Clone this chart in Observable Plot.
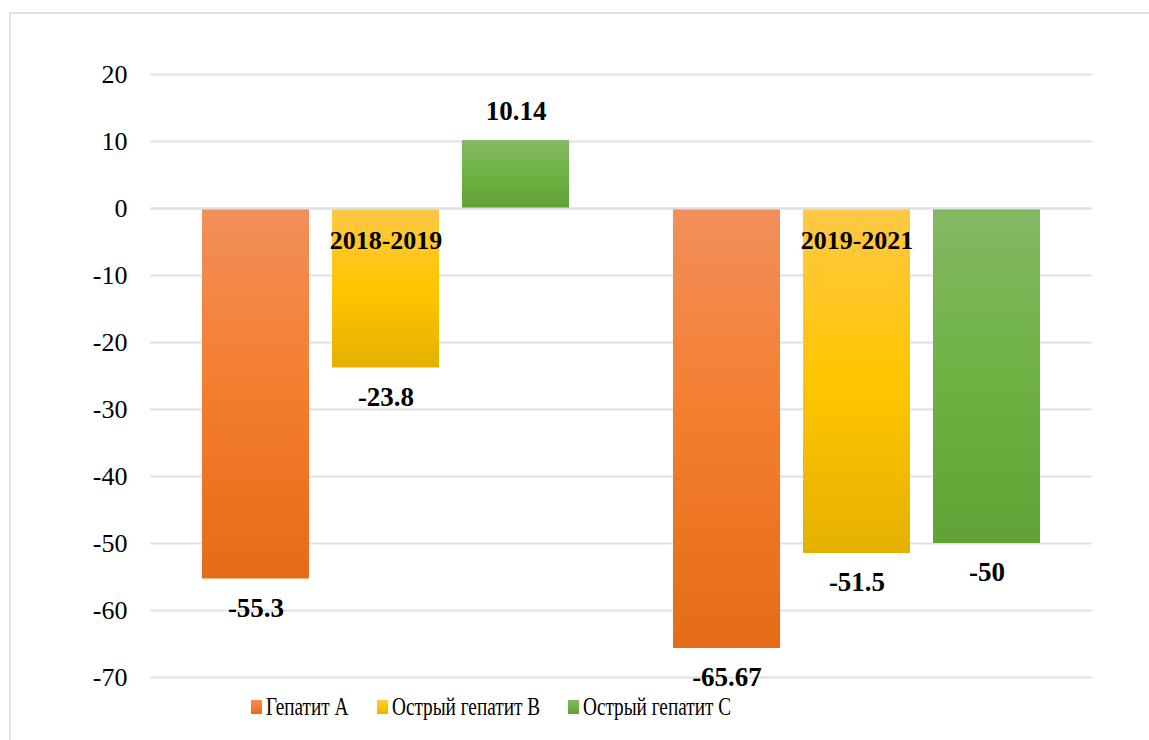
<!DOCTYPE html>
<html>
<head>
<meta charset="utf-8">
<script src="https://cdn.jsdelivr.net/npm/d3@7"></script>
<script src="https://cdn.jsdelivr.net/npm/@observablehq/plot@0.6"></script>
<style>
  html, body { margin: 0; padding: 0; background: #fff; overflow: hidden; width: 1149px; height: 740px; }
  #frame { position: absolute; left: 9px; top: 12px; width: 1170px; height: 760px; border: 2px solid #dee2e7; box-sizing: border-box; }
  #chart { position: absolute; left: 0; top: 0; }
  #chart svg, #chart svg text { font-family: "Liberation Serif", "Times New Roman", serif; }
  .leg { position: absolute; top: 697px; height: 26px; font-family: "Liberation Serif", "Times New Roman", serif; font-size: 26px; color: #000; white-space: nowrap; }
  .leg .sw { position: absolute; left: 0; top: 3px; width: 11px; height: 14px; }
  .leg .tx { position: absolute; left: 15px; top: -5px; transform: scaleX(0.74); transform-origin: left center; line-height: 30px; font-family: "Liberation Serif", "Times New Roman", serif; }
</style>
</head>
<body>
<div id="frame"></div>
<div id="chart"></div>
<div id="legend"></div>
<script>
// ---- data ----
const periods = ["2018-2019", "2019-2021"];
const series = ["Гепатит А", "Острый гепатит В", "Острый гепатит С"];
const values2018_2019 = [-55.3, -23.8, 10.14];
const values2019_2021 = [-65.67, -51.5, -50];
const yTicks = [20, 10, 0, -10, -20, -30, -40, -50, -60, -70];

// gradient stops per series (top, middle, bottom)
const gradIds = ["gA", "gB", "gC"];
const gradStops = [
  ["#F28F5A", "#F47D2C", "#E56B17"],
  ["#FFC846", "#FFC600", "#E5B100"],
  ["#83B964", "#6FB243", "#60A235"]
];
const legendX = [251, 377, 568];

const rows = [];
periods.forEach((p, i) => {
  const vals = i === 0 ? values2018_2019 : values2019_2021;
  series.forEach((s, j) => rows.push({period: p, series: s, value: vals[j]}));
});

const font = '"Liberation Serif", "Times New Roman", serif';

const chart = Plot.plot({
  width: 1149,
  height: 695,
  marginTop: 74,
  marginBottom: 18,
  marginLeft: 150,
  marginRight: 57,
  style: {fontFamily: font, background: "transparent", color: "#000"},
  fx: {domain: periods, paddingInner: 0, paddingOuter: 0, axis: null, label: null},
  x: {domain: series, paddingInner: 0.18, paddingOuter: 0.395, axis: null, label: null},
  y: {domain: [-70, 20], axis: null, label: null},
  color: {domain: series, range: gradIds.map(id => `url(#${id})`)},
  marks: [
    Plot.gridY(yTicks, {stroke: "#dde1e6", strokeOpacity: 1, strokeWidth: 2}),
    Plot.axisY(yTicks, {tickSize: 0, tickPadding: 23, fontSize: 26, fontFamily: font, tickFormat: d => String(d), label: null}),
    Plot.barY(rows, {fx: "period", x: "series", y: "value", fill: "series"}),
    Plot.ruleY([0], {stroke: "#dde1e6", strokeOpacity: 1, strokeWidth: 2}),
    Plot.text(rows.filter(d => d.value < 0), {fx: "period", x: "series", y: "value", text: d => String(d.value), dy: 29, fontSize: 27, fontWeight: "bold", fontFamily: font, fill: "#000"}),
    Plot.text(rows.filter(d => d.value >= 0), {fx: "period", x: "series", y: "value", text: d => String(d.value), dy: -29, fontSize: 27, fontWeight: "bold", fontFamily: font, fill: "#000"}),
    Plot.text(periods, {fx: d => d, y: 0, text: d => d, dy: 32, fontSize: 26, fontWeight: "bold", fontFamily: font, fill: "#000"})
  ]
});

// gradients
const svg = d3.select(chart);
const defs = svg.insert("defs", ":first-child");
gradIds.forEach((id, i) => {
  const g = defs.append("linearGradient").attr("id", id).attr("x1", 0).attr("y1", 0).attr("x2", 0).attr("y2", 1);
  g.append("stop").attr("offset", "0%").attr("stop-color", gradStops[i][0]);
  g.append("stop").attr("offset", "50%").attr("stop-color", gradStops[i][1]);
  g.append("stop").attr("offset", "100%").attr("stop-color", gradStops[i][2]);
});
document.getElementById("chart").appendChild(chart);

// legend
const leg = document.getElementById("legend");
series.forEach((s, i) => {
  const item = document.createElement("div");
  item.className = "leg";
  item.style.left = legendX[i] + "px";
  const sw = document.createElement("div");
  sw.className = "sw";
  sw.style.background = `linear-gradient(${gradStops[i][0]}, ${gradStops[i][1]}, ${gradStops[i][2]})`;
  const tx = document.createElement("span");
  tx.className = "tx";
  tx.textContent = s;
  item.appendChild(sw);
  item.appendChild(tx);
  leg.appendChild(item);
});
</script>
</body>
</html>
